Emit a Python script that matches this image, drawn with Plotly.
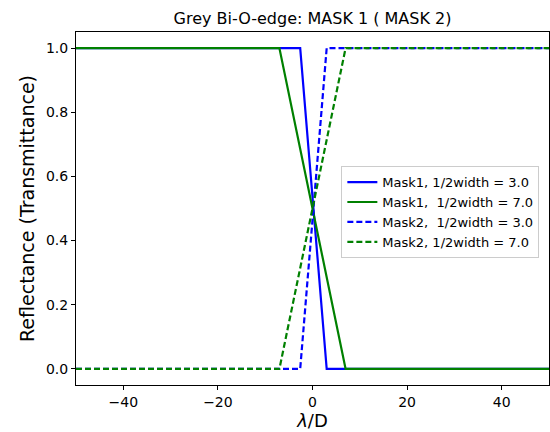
import plotly.graph_objects as go

# Data (breakpoints of the piecewise-linear mask profiles)
x_w3 = [-50.0, -2.6, 3.0, 50.0]
x_w7 = [-50.0, -7.0, 7.0, 50.0]
mask1_w3 = [1.0, 1.0, 0.0, 0.0]
mask1_w7 = [1.0, 1.0, 0.0, 0.0]
mask2_w3 = [0.0, 0.0, 1.0, 1.0]
mask2_w7 = [0.0, 0.0, 1.0, 1.0]
labels = ["Mask1, 1/2width = 3.0",
          "Mask1, \u00a01/2width = 7.0",
          "Mask2, \u00a01/2width = 3.0",
          "Mask2, 1/2width = 7.0"]
x_ticks = [-40, -20, 0, 20, 40]
y_ticks = [0.0, 0.2, 0.4, 0.6, 0.8, 1.0]

FONT = "DejaVu Sans"
BLUE = "#0000ff"
GREEN = "#008000"

fig = go.Figure()
series = [
    (x_w3, mask1_w3, BLUE, "solid"),
    (x_w7, mask1_w7, GREEN, "solid"),
    (x_w3, mask2_w3, BLUE, "6px,3px"),
    (x_w7, mask2_w7, GREEN, "6px,3px"),
]
for (xs, ys, col, dash), name in zip(series, labels):
    fig.add_trace(go.Scatter(x=xs, y=ys, mode="lines", name=name,
                             line=dict(color=col, width=2.2, dash=dash)))

fig.update_layout(
    width=550, height=432,
    margin=dict(l=76, r=1, t=32, b=47),
    paper_bgcolor="white", plot_bgcolor="white",
    font=dict(family=FONT, color="black", size=14),
    title=dict(text="Grey Bi-O-edge: MASK 1 ( MASK 2)", x=0.5, xref="paper",
               xanchor="center", y=1 - 18/432, yanchor="middle", font=dict(size=16)),
    legend=dict(x=0.561, y=0.62, xanchor="left", yanchor="top",
                bgcolor="rgba(255,255,255,0.8)", bordercolor="#cccccc", borderwidth=1,
                font=dict(size=13), tracegroupgap=0, itemwidth=30),
    showlegend=True,
)
fig.update_xaxes(range=[-50, 50], tickvals=x_ticks, ticks="outside", ticklen=4,
                 tickcolor="black", showgrid=False, zeroline=False,
                 showline=True, linecolor="black", linewidth=1, mirror=True,
                 tickfont=dict(size=14),
                 title=dict(text="<i>λ</i>/D", font=dict(size=18), standoff=3))
fig.update_yaxes(range=[-0.05, 1.05], tickvals=y_ticks, tickformat=".1f",
                 ticks="outside", ticklen=4, tickcolor="black", showgrid=False,
                 zeroline=False, showline=True, linecolor="black", linewidth=1,
                 mirror=True, tickfont=dict(size=14),
                 title=dict(text="Reflectance (Transmittance)", font=dict(size=19),
                            standoff=6))

fig.write_html("out.html")
